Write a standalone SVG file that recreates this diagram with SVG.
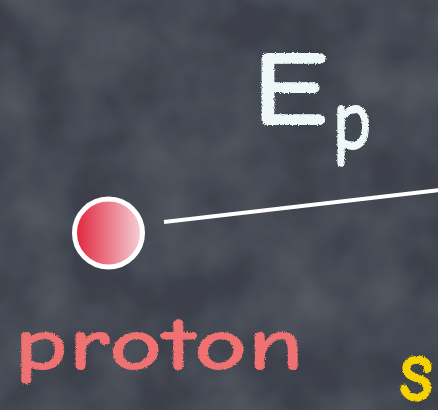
<svg xmlns="http://www.w3.org/2000/svg" width="438" height="410" viewBox="0 0 438 410">
  <defs>
    <linearGradient id="protonGrad" x1="0" y1="0" x2="1" y2="0">
      <stop offset="0" stop-color="#e1223c"/>
      <stop offset="1" stop-color="#f6d3d8"/>
    </linearGradient>
    <filter id="chalk" x="-10%" y="-10%" width="120%" height="120%">
      <feTurbulence type="fractalNoise" baseFrequency="0.9" numOctaves="2" seed="3" result="n"/>
      <feDisplacementMap in="SourceGraphic" in2="n" scale="3" xChannelSelector="R" yChannelSelector="G"/>
    </filter>
    <filter id="board" x="0" y="0" width="100%" height="100%">
      <feTurbulence type="fractalNoise" baseFrequency="0.015" numOctaves="3" seed="7" result="n"/>
      <feColorMatrix in="n" type="matrix" values="0 0 0 0 0.36  0 0 0 0 0.38  0 0 0 0 0.43  0 0 0 0.25 -0.08" result="c"/>
      <feComposite in="c" in2="SourceGraphic" operator="over"/>
    </filter>
    <style>
      .label { font-family: "Comic Neue", "Liberation Sans", sans-serif; font-weight: bold; }
      .ep { fill: #eef8f8; }
      .proton { fill: #f07171; }
      .s { fill: #f6d200; }
      .conn { stroke: #ffffff; stroke-width: 4; fill: none; }
    </style>
  </defs>
  <rect x="0" y="0" width="438" height="410" fill="#3c414b" filter="url(#board)"/>

  <g id="connectors">
    <line class="conn" x1="164" y1="222" x2="440" y2="190"/>
  </g>

  <g id="proton-node">
    <circle cx="108.5" cy="233" r="34" fill="url(#protonGrad)" stroke="#ffffff" stroke-width="5"/>
  </g>

  <g id="label-ep" filter="url(#chalk)">
    <text class="label ep" x="252" y="125" font-size="108" textLength="76" lengthAdjust="spacingAndGlyphs">E</text>
    <text class="label ep" x="332" y="150" font-size="70" textLength="40" lengthAdjust="spacingAndGlyphs" transform="translate(0,-45) scale(1,1.3)">p</text>
  </g>

  <g id="label-proton" filter="url(#chalk)">
    <text class="label proton" x="14" y="370" font-size="76" textLength="290" lengthAdjust="spacingAndGlyphs">proton</text>
  </g>

  <g id="label-s" filter="url(#chalk)">
    <text class="label s" x="398" y="401" font-size="92" textLength="36" lengthAdjust="spacingAndGlyphs">s</text>
  </g>
</svg>
